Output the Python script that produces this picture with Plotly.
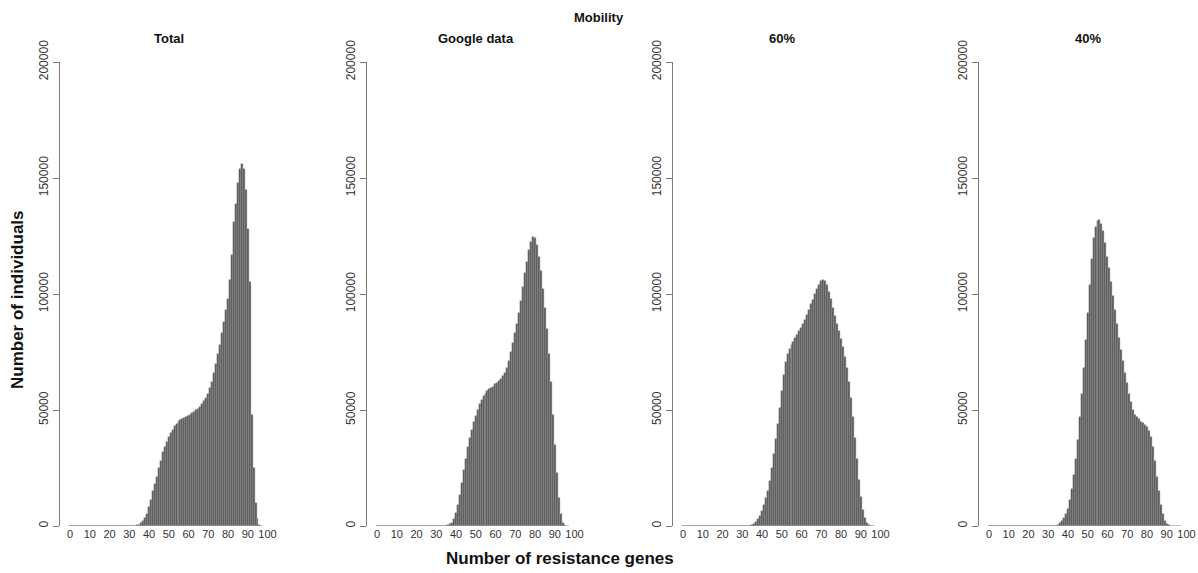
import plotly.graph_objects as go

# ── Data (counts in thousands, one bin per number of genes 0..97) ─────────────
genes = list(range(0, 98))

total = [0] * 34 + [
    0.3, 0.6, 1.2, 2.2, 3.5, 5, 8, 11, 15, 18,          # 34-43
    21, 25, 28, 32, 34, 36, 38.5, 40, 41.5, 43,         # 44-53
    44, 45, 45.5, 46, 46.5, 47, 47.5, 48, 48.5, 49,     # 54-63
    50, 50.5, 51.5, 52.5, 54, 55, 57, 59.5, 62, 66,     # 64-73
    70, 74, 78, 83, 88, 93, 98, 106, 117, 131,          # 74-83
    139, 148, 154, 156, 154, 145, 128, 105, 48, 25,     # 84-93
    10, 3, 0.5, 0,                                      # 94-97
]

google = [0] * 36 + [
    0.3, 0.7, 1.5, 3, 5.5, 9, 13.5, 18.5, 24, 29,       # 36-45
    34, 38, 41.5, 45, 47.5, 50, 52.5, 54.5, 56, 57,     # 46-55
    58, 59, 59.5, 60, 61, 61.5, 62.5, 63.5, 64.5, 66,   # 56-65
    68, 71, 75, 79, 83, 87, 92, 97, 103, 109,           # 66-75
    114, 119, 122.5, 124.5, 124, 121, 116, 110, 102, 94,  # 76-85
    85, 74, 62, 48, 35, 23, 12, 5, 1.5, 0.3,            # 86-95
    0, 0,                                               # 96-97
]

mob60 = [0] * 35 + [
    0.3, 0.8, 1.8, 3, 4.5, 6.5, 9, 12, 15, 19.5,        # 35-44
    25, 31, 37.5, 44, 51, 58, 65, 70.5, 74, 76.5,       # 45-54
    78, 79.5, 81, 82.5, 84, 85.5, 87, 89, 91, 93,       # 55-64
    95.5, 97.5, 100, 102, 104, 105.5, 106, 105.5, 104, 101,  # 65-74
    98, 94, 90.5, 87, 84, 80.5, 77, 73, 68, 62,         # 75-84
    55, 47, 38, 29, 20, 12.5, 7, 3.5, 1.5, 0.5,         # 85-94
    0.2, 0, 0,                                          # 95-97
]

mob40 = [0] * 34 + [
    0.2, 0.5, 1.2, 2.2, 3.5, 5, 7.5, 11, 16, 22,        # 34-43
    29, 37, 47, 57, 68, 80, 92, 104, 115, 124,          # 44-53
    129, 131.5, 132, 130, 127, 122, 116, 111, 105, 99,  # 54-63
    93, 87, 81, 76, 71, 66, 61.5, 57, 53.5, 50,         # 64-73
    48, 47, 46, 45, 44.5, 43.5, 42.5, 41, 38.5, 34,     # 74-83
    28, 21, 15, 9, 5, 2.2, 0.9, 0.3,                    # 84-91
    0, 0, 0, 0, 0, 0,                                   # 92-97
]

panel_titles = ["Total", "Google data", "60%", "40%"]
series = [total, google, mob60, mob40]

x_ticks = list(range(0, 101, 10))
y_ticks = [0, 50000, 100000, 150000, 200000]

# ── Layout geometry (pixels of the 1198x573 page) ─────────────────────────────
W, H = 1198, 573
X0_PX = [70, 377, 683, 989]      # pixel of gene count 0 in each panel
PX_PER_UNIT = 1.975
X_RANGE = [-5, 101]
Y_BOTTOM_PX, Y_TOP_PX = 526, 62

BAR_FILL = "#525252"
BAR_EDGE = "#9a9a9a"
AXIS_COL = "#7a7a7a"
FONT = "Liberation Sans, Arial, sans-serif"


def px(x):
    return x / W


def py(y):
    return (H - y) / H


fig = go.Figure()
layout = dict(
    width=W, height=H,
    margin=dict(l=0, r=0, t=0, b=0, autoexpand=False),
    paper_bgcolor="white",
    plot_bgcolor="white",
    showlegend=False,
    bargap=0,
    font=dict(family=FONT, color="#222222"),
)

ydom = [py(Y_BOTTOM_PX), py(Y_TOP_PX)]
annotations = []
shapes = []

for i, (vals, title) in enumerate(zip(series, panel_titles)):
    n = "" if i == 0 else str(i + 1)
    left_px = X0_PX[i] + X_RANGE[0] * PX_PER_UNIT
    right_px = X0_PX[i] + X_RANGE[1] * PX_PER_UNIT

    fig.add_trace(go.Bar(
        x=genes, y=[v * 1000 for v in vals],
        width=1,
        marker=dict(color=BAR_FILL, line=dict(color=BAR_EDGE, width=0.5)),
        xaxis="x" + n, yaxis="y" + n,
    ))

    layout["xaxis" + n] = dict(
        domain=[px(left_px), px(right_px)],
        range=X_RANGE, anchor="y" + n, automargin=False,
        showline=False, showgrid=False, zeroline=False,
        ticks="", tickvals=x_ticks,
        tickfont=dict(size=11, color="#333333"),
        fixedrange=True,
    )
    layout["yaxis" + n] = dict(
        domain=ydom, range=[0, 200000], anchor="x" + n, automargin=False,
        showline=True, linecolor=AXIS_COL, linewidth=1,
        showgrid=False, zeroline=False,
        ticks="outside", ticklen=6, tickcolor=AXIS_COL,
        tickvals=y_ticks, ticktext=[str(t) for t in y_ticks], tickangle=-90,
        tickfont=dict(size=12, color="#333333"),
        fixedrange=True,
    )

    # baseline under the bins (zero-height bars)
    last = max(k for k, v in enumerate(vals) if v > 0)
    shapes.append(dict(
        type="line", xref="x" + n, yref="y" + n,
        x0=-0.5, x1=last + 0.5, y0=0, y1=0,
        line=dict(color="#8a8a8a", width=1),
    ))

    annotations.append(dict(
        text=f"<b>{title}</b>", xref="paper", yref="paper",
        x=px(X0_PX[i] + 50 * PX_PER_UNIT), y=py(38),
        xanchor="center", yanchor="middle",
        showarrow=False, font=dict(size=13, color="#111111"),
    ))

annotations += [
    dict(text="<b>Mobility</b>", xref="paper", yref="paper",
         x=px(599), y=py(17), xanchor="center", yanchor="middle",
         showarrow=False, font=dict(size=13, color="#111111")),
    dict(text="<b>Number of resistance genes</b>", xref="paper", yref="paper",
         x=px(560), y=py(558), xanchor="center", yanchor="middle",
         showarrow=False, font=dict(size=17, color="#111111")),
    dict(text="<b>Number of individuals</b>", xref="paper", yref="paper",
         x=px(17), y=py(300), xanchor="center", yanchor="middle",
         showarrow=False, textangle=-90,
         font=dict(size=17, color="#111111")),
]

layout["annotations"] = annotations
layout["shapes"] = shapes
fig.update_layout(**layout)

# the page's default body margin would push the figure 8px down and right
fig.write_html(
    "out.html",
    config={"displayModeBar": False},
    post_script="document.body.style.margin='0';",
)
